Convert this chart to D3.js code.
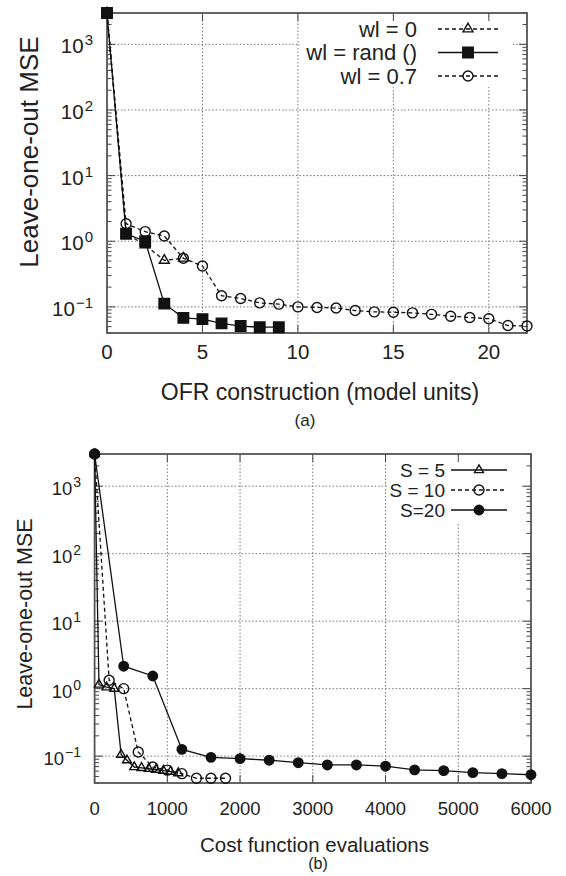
<!DOCTYPE html>
<html>
<head>
<meta charset="utf-8">
<script src="https://cdn.jsdelivr.net/npm/d3@7"></script>
<style>
	body { margin: 0; background: #fff; }
	text { font-family: "Liberation Sans", Arial, sans-serif; fill: #222; }
</style>
</head>
<body>
<div id="chart"></div>
<script>
// ---- panel (a): OFR construction ----
const ofr_ticks = [0, 5, 10, 15, 20];
const wl0_x = [0, 1, 2, 3, 4];
const wl0_y = [3000, 1.3, 0.88, 0.51, 0.55];
const rand_x = [0, 1, 2, 3, 4, 5, 6, 7, 8, 9];
const rand_y = [3000, 1.3, 1.0, 0.112, 0.068, 0.065, 0.056, 0.051, 0.049, 0.049];
const wl07_x = [0, 1, 2, 3, 4, 5, 6, 7, 8, 9, 10, 11, 12, 13, 14, 15, 16, 17, 18, 19, 20, 21, 22];
const wl07_y = [3000, 1.85, 1.4, 1.2, 0.55, 0.42, 0.148, 0.134, 0.115, 0.11, 0.1, 0.098, 0.096,
	0.088, 0.084, 0.083, 0.081, 0.077, 0.072, 0.069, 0.066, 0.052, 0.051];

// ---- panel (b): cost function evaluations ----
const cost_ticks = [0, 1000, 2000, 3000, 4000, 5000, 6000];
const s5_x = [0, 60, 165, 270, 365, 445, 545, 645, 745, 845, 945, 1045, 1150];
const s5_y = [3000, 1.15, 1.05, 1.0, 0.105, 0.087, 0.069, 0.067, 0.065, 0.063, 0.061, 0.059, 0.056];
const s10_x = [0, 200, 400, 600, 800, 1000, 1200, 1400, 1600, 1800];
const s10_y = [3000, 1.33, 1.0, 0.115, 0.069, 0.062, 0.055, 0.047, 0.047, 0.047];
const s20_x = [0, 400, 800, 1200, 1600, 2000, 2400, 2800, 3200, 3600, 4000, 4400, 4800, 5200, 5600, 6000];
const s20_y = [3000, 2.15, 1.54, 0.126, 0.096, 0.092, 0.087, 0.08, 0.074, 0.074, 0.071, 0.0625,
	0.061, 0.057, 0.055, 0.053];

const y_domain = [0.04, 3000];
const y_title = "Leave-one-out MSE";

class mse_panel {

	constructor(opts) {
		this.svg = opts.svg;
		this.o = opts;
		this.draw();
	}

	draw() {
		this.g = this.svg.append("g");
		this.create_scales();
		this.create_grid();
		this.create_legend_box();
		this.create_axes();
		this.create_shapes();
		this.create_legend();
		this.create_titles();
	}

	create_scales() {
		const o = this.o;
		this.x_scale = d3.scaleLinear()
			.domain(o.x_domain)
			.range([o.left, o.right]);
		this.y_scale = d3.scaleLog()
			.domain(y_domain)
			.range([o.bottom, o.top]);
		// majors are the decades, everything else is a minor tick
		this.y_all = this.y_scale.ticks();
		this.y_major = this.y_all.filter((d) => Math.abs(Math.log10(d) - Math.round(Math.log10(d))) < 1e-9);
	}

	create_grid() {
		const o = this.o;
		const grid = this.g.append("g")
			.attr("stroke", "#777")
			.attr("stroke-width", 1)
			.attr("stroke-dasharray", "1.5,2");

		grid.selectAll(".gx")
			.data(o.x_ticks.filter((d) => d > o.x_domain[0] && d < o.x_domain[1]))
			.enter()
			.append("line")
			.attr("x1", (d) => this.x_scale(d))
			.attr("x2", (d) => this.x_scale(d))
			.attr("y1", o.top)
			.attr("y2", o.bottom);

		grid.selectAll(".gy")
			.data(this.y_major)
			.enter()
			.append("line")
			.attr("x1", o.left)
			.attr("x2", o.right)
			.attr("y1", (d) => this.y_scale(d))
			.attr("y2", (d) => this.y_scale(d));
	}

	create_legend_box() {
		// the key is opaque, it hides the grid behind it
		const b = this.o.legend.box;
		this.g.append("rect")
			.attr("x", b[0]).attr("y", b[1])
			.attr("width", b[2] - b[0]).attr("height", b[3] - b[1])
			.attr("fill", "#fff");
	}

	create_axes() {
		const o = this.o;
		const ticks = this.g.append("g").attr("stroke", "#444").attr("stroke-width", 1);

		// y ticks, inside, mirrored on the right
		this.y_all.forEach((d) => {
			const len = this.y_major.includes(d) ? 8 : 4.5;
			const yy = this.y_scale(d);
			ticks.append("line").attr("x1", o.left).attr("x2", o.left + len).attr("y1", yy).attr("y2", yy);
			ticks.append("line").attr("x1", o.right).attr("x2", o.right - len).attr("y1", yy).attr("y2", yy);
		});

		// x ticks, inside, mirrored on top
		o.x_ticks.forEach((d) => {
			const xx = this.x_scale(d);
			ticks.append("line").attr("x1", xx).attr("x2", xx).attr("y1", o.bottom).attr("y2", o.bottom - 8);
			ticks.append("line").attr("x1", xx).attr("x2", xx).attr("y1", o.top).attr("y2", o.top + 8);
		});

		this.g.append("rect")
			.attr("x", o.left).attr("y", o.top)
			.attr("width", o.right - o.left).attr("height", o.bottom - o.top)
			.attr("fill", "none")
			.attr("stroke", "#555")
			.attr("stroke-width", 1.8);

		// tick labels, 10 with a superscript exponent
		const ylab = this.g.selectAll(".ylab")
			.data(this.y_major)
			.enter()
			.append("text")
			.attr("x", o.ylab_right)
			.attr("y", (d) => this.y_scale(d) + 9)
			.attr("text-anchor", "end")
			.style("font-size", o.tick_font + "px");
		ylab.append("tspan").text("10");
		ylab.append("tspan")
			.attr("dy", -8)
			.attr("dx", 1)
			.style("font-size", o.sup_font + "px")
			.text((d) => {
				const e = Math.round(Math.log10(d));
				return e < 0 ? "\u2212" + (-e) : String(e);
			});

		this.g.selectAll(".xlab")
			.data(o.x_ticks)
			.enter()
			.append("text")
			.attr("x", (d) => this.x_scale(d))
			.attr("y", o.xlab_y)
			.attr("text-anchor", "middle")
			.style("font-size", o.tick_font + "px")
			.text((d) => d);
	}

	marker(sel, type, size) {
		const sym = {
			triangle: d3.symbol().type(d3.symbolTriangle).size(size * size * 0.433),
			square: d3.symbol().type(d3.symbolSquare).size(size * size),
			circle: d3.symbol().type(d3.symbolCircle).size(Math.PI * size * size / 4)
		}[type];
		sel.attr("d", sym);
	}

	create_shapes() {
		const o = this.o;
		o.series.forEach((s) => {
			const pts = s.xs.map((x, i) => [x, s.ys[i]]);
			const line = d3.line()
				.x((d) => this.x_scale(d[0]))
				.y((d) => this.y_scale(d[1]));

			this.g.append("path")
				.datum(pts)
				.attr("d", line)
				.attr("fill", "none")
				.attr("stroke", "#111")
				.attr("stroke-width", 1.3)
				.attr("stroke-dasharray", s.dash ? "4,3" : null);

			this.g.selectAll(null)
				.data(pts)
				.enter()
				.append("path")
				.attr("transform", (d) => `translate(${this.x_scale(d[0])},${this.y_scale(d[1])})`)
				.call((sel) => this.marker(sel, s.marker, s.size))
				.attr("fill", s.filled ? "#111" : "none")
				.attr("stroke", "#111")
				.attr("stroke-width", 1.4);
		});
	}

	create_legend() {
		const lg = this.o.legend;
		this.o.series.forEach((s, i) => {
			const yy = lg.y0 + i * lg.step;
			this.g.append("text")
				.attr("x", lg.text_right)
				.attr("y", yy + lg.font * 0.36)
				.attr("text-anchor", "end")
				.style("font-size", lg.font + "px")
				.text(s.label);
			this.g.append("line")
				.attr("x1", lg.x0).attr("x2", lg.x1)
				.attr("y1", yy).attr("y2", yy)
				.attr("stroke", "#111")
				.attr("stroke-width", 1.3)
				.attr("stroke-dasharray", s.dash ? "4,3" : null);
			this.g.append("path")
				.attr("transform", `translate(${(lg.x0 + lg.x1) / 2},${yy})`)
				.call((sel) => this.marker(sel, s.marker, s.size))
				.attr("fill", s.filled ? "#111" : "none")
				.attr("stroke", "#111")
				.attr("stroke-width", 1.4);
		});
	}

	create_titles() {
		const o = this.o;
		this.g.append("text")
			.attr("transform", `translate(${o.y_title_pos[0]},${o.y_title_pos[1]}) rotate(-90)`)
			.attr("text-anchor", "middle")
			.style("font-size", o.y_title_font + "px")
			.text(y_title);
		this.g.append("text")
			.attr("x", o.x_title_pos[0]).attr("y", o.x_title_pos[1])
			.attr("text-anchor", "middle")
			.style("font-size", o.x_title_font + "px")
			.text(o.x_title);
		this.g.append("text")
			.attr("x", o.caption_pos[0]).attr("y", o.caption_pos[1])
			.attr("text-anchor", "middle")
			.style("font-size", o.caption_font + "px")
			.text(o.caption);
	}
}

const svg = d3.select("#chart").append("svg")
	.attr("width", 566)
	.attr("height", 876);

new mse_panel({
	svg: svg,
	left: 107, right: 527, top: 13, bottom: 333,
	x_domain: [0, 22], x_ticks: ofr_ticks,
	tick_font: 20.5, sup_font: 15, ylab_right: 93, xlab_y: 358.5,
	x_title: "OFR construction (model units)", x_title_font: 23, x_title_pos: [320, 400],
	caption: "(a)", caption_font: 17, caption_pos: [305, 426],
	y_title_font: 26, y_title_pos: [38, 152],
	legend: {text_right: 417, x0: 438, x1: 498, y0: 29, step: 23.5, font: 22, box: [300, 17, 513, 87]},
	series: [
		{label: "wl = 0", xs: wl0_x, ys: wl0_y, marker: "triangle", size: 10, dash: true, filled: false},
		{label: "wl = rand ()", xs: rand_x, ys: rand_y, marker: "square", size: 10.5, dash: false, filled: true},
		{label: "wl = 0.7", xs: wl07_x, ys: wl07_y, marker: "circle", size: 10, dash: true, filled: false}
	]
});

new mse_panel({
	svg: svg,
	left: 94.6, right: 531, top: 454, bottom: 783,
	x_domain: [0, 6000], x_ticks: cost_ticks,
	tick_font: 18.5, sup_font: 14, ylab_right: 81, xlab_y: 814.5,
	x_title: "Cost function evaluations", x_title_font: 20.5, x_title_pos: [314.5, 852],
	caption: "(b)", caption_font: 16, caption_pos: [318, 869],
	y_title_font: 21.5, y_title_pos: [32, 614],
	legend: {text_right: 445, x0: 451, x1: 507, y0: 470, step: 20, font: 19, box: [388, 456, 520, 522]},
	series: [
		{label: "S = 5", xs: s5_x, ys: s5_y, marker: "triangle", size: 9, dash: false, filled: false},
		{label: "S = 10", xs: s10_x, ys: s10_y, marker: "circle", size: 10, dash: true, filled: false},
		{label: "S=20", xs: s20_x, ys: s20_y, marker: "circle", size: 9.5, dash: false, filled: true}
	]
});
</script>
</body>
</html>
